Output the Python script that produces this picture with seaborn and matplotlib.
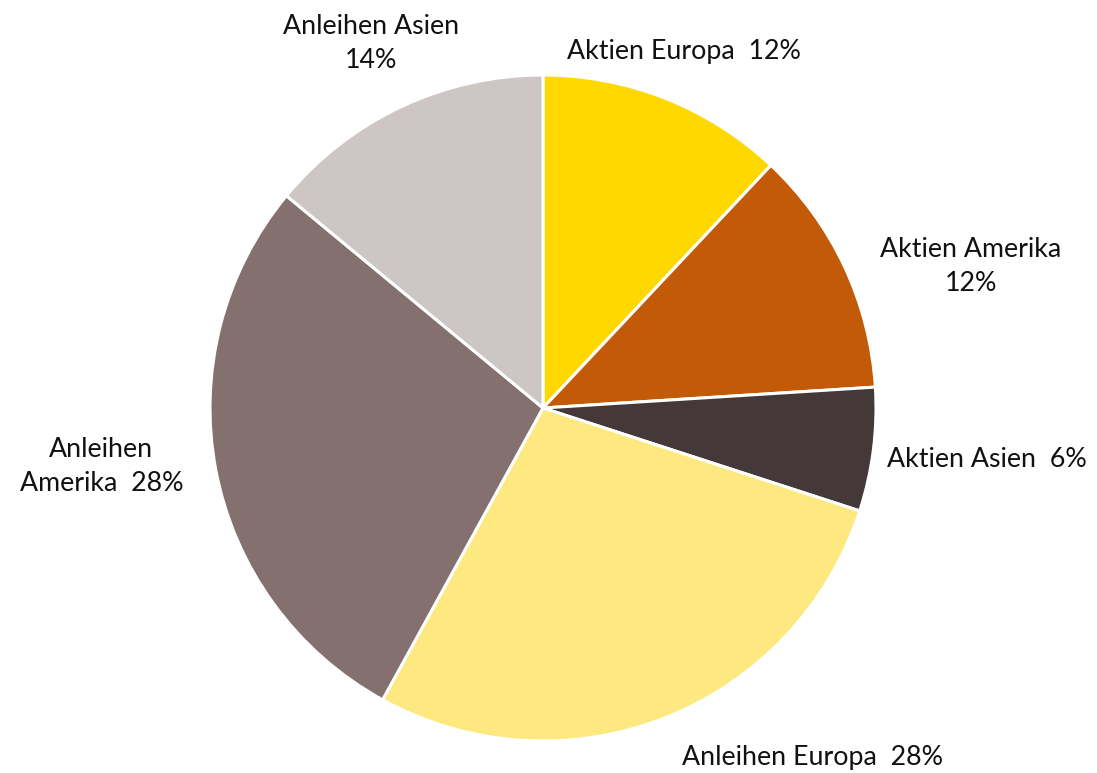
import seaborn as sns
import matplotlib
matplotlib.use("Agg")
import matplotlib.pyplot as plt
import numpy as np

sns.set_theme(style="white")
plt.rcParams['font.family'] = ['Lato', 'DejaVu Sans']

# Data
labels = ['Aktien Europa  12%', 'Aktien Amerika\n12%', 'Aktien Asien  6%',
          'Anleihen Europa  28%', 'Anleihen\nAmerika  28%', 'Anleihen Asien\n14%']
shares = [12, 12, 6, 28, 28, 14]
colors = ['#FFD800', '#C25A07', '#443938', '#FDE97F', '#857070', '#CEC5C5']

# label placement (distance in radii, vertical nudge, alignment)
label_dist = [1.15, 1.12, 1.04, 1.13, 1.10, 1.21]
label_dy = [0, -17, -8, 0, 10, 0]
label_ha = ['center', 'left', 'left', 'left', 'right', 'center']

fig = plt.figure(figsize=(10.97, 7.73), dpi=100)
ax = fig.add_axes([0, 0, 1, 1])

R = 333
cx, cy = 543, 773 - 408
wedges, texts = ax.pie(shares, labels=labels, colors=colors, startangle=90,
                       counterclock=False, radius=R, center=(cx, cy),
                       wedgeprops=dict(edgecolor='white', linewidth=2.2),
                       textprops=dict(fontsize=19.3, color='#111111'))

for w, t, d, dy, ha in zip(wedges, texts, label_dist, label_dy, label_ha):
    ang = np.deg2rad((w.theta1 + w.theta2) / 2)
    t.set_position((cx + d * R * np.cos(ang), cy + d * R * np.sin(ang) + dy))
    t.set_ha(ha)
    t.set_va('center')
    t.set_multialignment('center')
    t.set_linespacing(1.45)

ax.set_xlim(0, 1097)
ax.set_ylim(0, 773)
ax.set_aspect('equal')
ax.axis('off')

fig.savefig('out.png', dpi=100, facecolor='white')
